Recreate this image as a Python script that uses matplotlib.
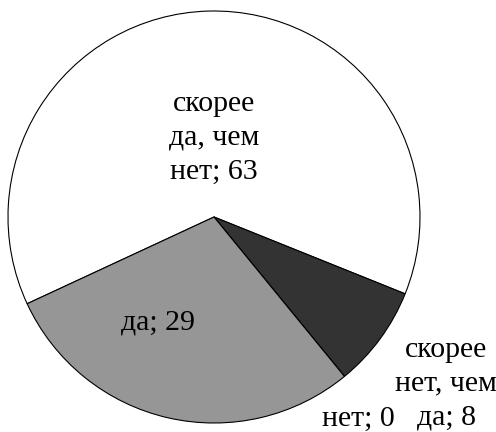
import matplotlib
matplotlib.use('Agg')
import matplotlib.pyplot as plt

# answers and their shares, in clockwise order as drawn
labels = ['скорее\nда, чем\nнет', 'скорее\nнет, чем\nда', 'нет', 'да']
values = [63, 8, 0, 29]
colors = ['#ffffff', '#333333', '#ffffff', '#969696']

# where each data label sits (in units of the pie radius)
label_pos = [(0.0, 0.385), (1.127, -0.81), (0.70, -0.98), (-0.27, -0.51)]

plt.rcParams['font.family'] = ['Liberation Serif', 'DejaVu Serif']

fig = plt.figure(figsize=(4.96, 4.32), dpi=100)
ax = fig.add_axes([0, 0, 1, 1])

ax.pie(values, colors=colors, startangle=204.9, counterclock=False,
       radius=1.0, center=(0, 0),
       wedgeprops=dict(edgecolor='black', linewidth=0.8))

for lab, v, (x, y) in zip(labels, values, label_pos):
    ax.text(x, y, '%s; %d' % (lab, v), ha='center', va='center',
            fontsize=21.5, linespacing=1.4, color='black')

ax.set_xlim(-214 / 206, 282 / 206)
ax.set_ylim(-215 / 206, 217 / 206)
ax.set_aspect('auto')
ax.axis('off')

fig.savefig('out.png', dpi=100)
